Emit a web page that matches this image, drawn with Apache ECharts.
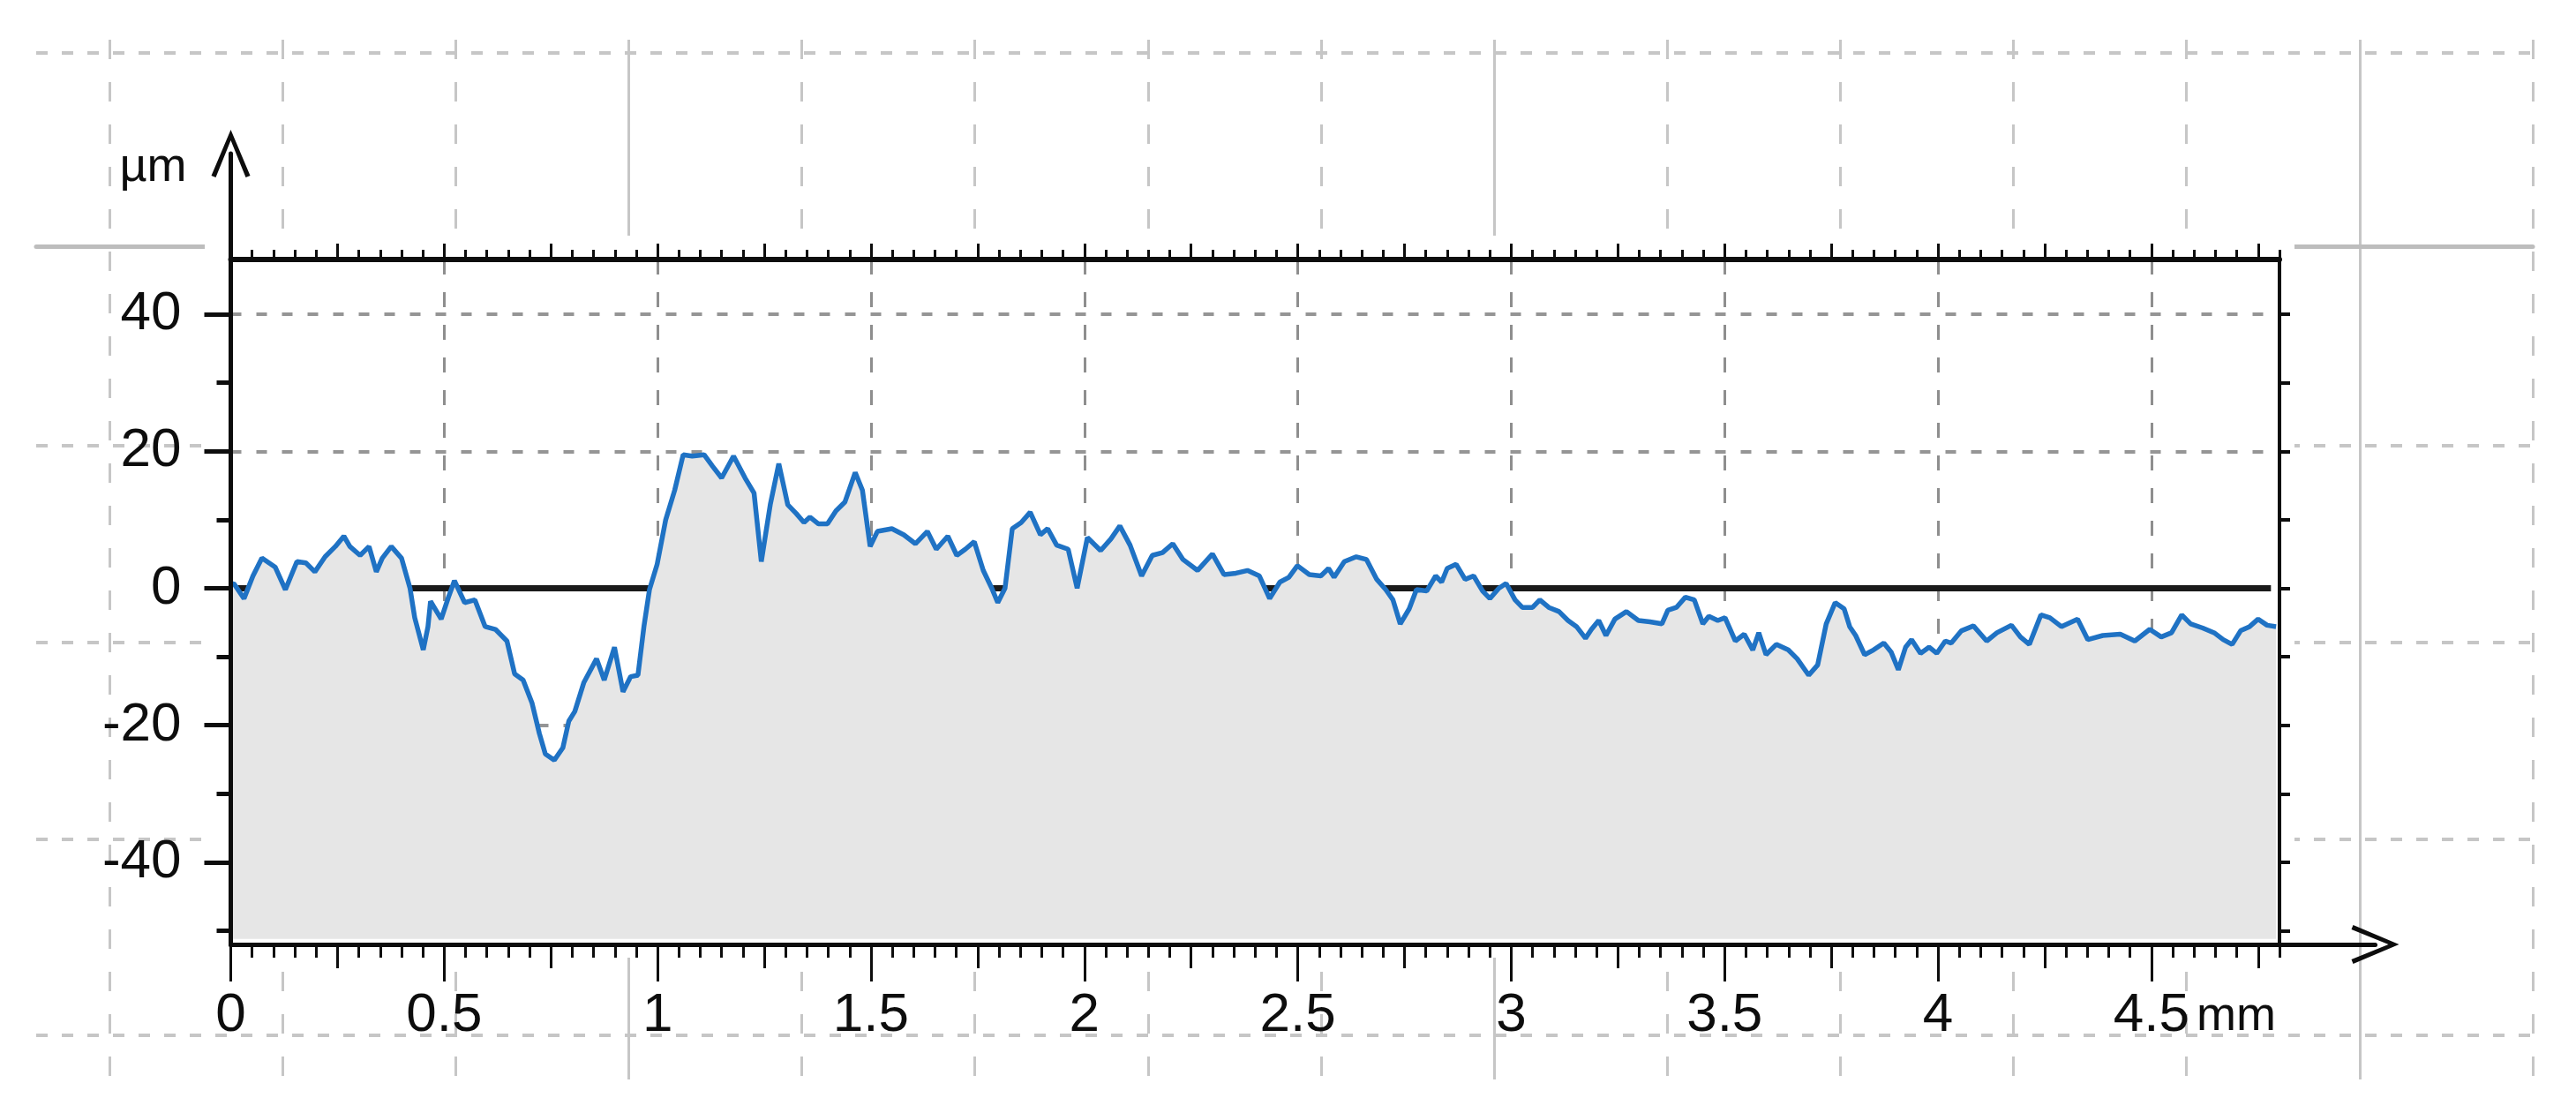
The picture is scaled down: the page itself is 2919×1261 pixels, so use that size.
<!DOCTYPE html>
<html>
<head>
<meta charset="utf-8">
<script src="https://cdn.jsdelivr.net/npm/echarts@6/dist/echarts.min.js"></script>
<style>
html,body{margin:0;padding:0;background:#fff;}
#chart{width:2919px;height:1261px;}
</style>
</head>
<body>
<div id="chart"></div>
<script>
// ---- data ----
const profileX = [0.000,0.007,0.031,0.052,0.073,0.104,0.128,0.155,0.176,0.197,0.221,0.245,0.265,0.279,0.303,0.324,0.341,0.355,0.376,0.400,0.420,0.431,0.451,0.462,0.468,0.493,0.510,0.524,0.548,0.572,0.596,0.620,0.647,0.665,0.685,0.706,0.723,0.737,0.758,0.778,0.792,0.806,0.827,0.857,0.875,0.899,0.919,0.937,0.954,0.968,0.981,0.999,1.019,1.040,1.060,1.081,1.109,1.129,1.150,1.178,1.205,1.226,1.243,1.264,1.284,1.305,1.325,1.343,1.357,1.377,1.398,1.418,1.439,1.463,1.480,1.498,1.515,1.549,1.577,1.604,1.632,1.653,1.680,1.701,1.721,1.742,1.763,1.783,1.797,1.814,1.831,1.852,1.873,1.897,1.914,1.935,1.962,1.983,2.007,2.038,2.062,2.083,2.107,2.134,2.159,2.183,2.207,2.231,2.265,2.300,2.327,2.355,2.382,2.410,2.434,2.458,2.479,2.499,2.527,2.554,2.572,2.585,2.609,2.637,2.661,2.685,2.706,2.723,2.740,2.761,2.778,2.802,2.823,2.837,2.850,2.871,2.892,2.912,2.933,2.950,2.971,2.988,3.009,3.026,3.050,3.067,3.088,3.112,3.133,3.153,3.174,3.188,3.205,3.222,3.243,3.270,3.298,3.325,3.353,3.367,3.387,3.408,3.429,3.449,3.463,3.484,3.501,3.525,3.546,3.566,3.580,3.597,3.621,3.649,3.670,3.697,3.718,3.738,3.759,3.780,3.793,3.807,3.828,3.849,3.873,3.890,3.907,3.924,3.938,3.959,3.979,3.997,4.017,4.031,4.055,4.083,4.114,4.138,4.172,4.193,4.214,4.241,4.262,4.289,4.327,4.351,4.386,4.427,4.461,4.496,4.523,4.547,4.571,4.592,4.620,4.647,4.668,4.689,4.709,4.730,4.750,4.771,4.792];
const profileY = [0.5,0.7,-1.5,1.8,4.4,3.1,-0.2,3.9,3.7,2.4,4.6,6.1,7.6,6.1,4.8,6.1,2.4,4.4,6.1,4.4,0.0,-4.3,-9.0,-5.6,-1.9,-4.5,-1.3,1.1,-2.1,-1.7,-5.6,-6.0,-7.7,-12.5,-13.4,-16.8,-21.2,-24.2,-25.1,-23.3,-19.4,-18.0,-13.8,-10.3,-13.4,-8.6,-15.1,-12.9,-12.7,-5.6,-0.2,3.5,10.0,14.3,19.5,19.3,19.5,17.8,16.1,19.3,16.1,13.9,3.9,12.2,18.2,12.2,10.9,9.6,10.4,9.4,9.4,11.3,12.6,16.9,14.3,6.1,8.3,8.7,7.8,6.5,8.3,5.7,7.6,4.8,5.7,6.8,2.6,0.0,-2.1,0.0,8.7,9.6,11.1,7.8,8.7,6.3,5.7,0.0,7.4,5.5,7.2,9.1,6.3,1.8,4.8,5.2,6.5,4.2,2.6,5.0,2.0,2.2,2.6,1.8,-1.5,0.9,1.6,3.3,2.0,1.8,2.9,1.6,3.9,4.6,4.2,1.3,-0.2,-1.7,-5.2,-3.0,-0.2,-0.4,1.8,0.9,2.9,3.5,1.3,1.8,-0.4,-1.5,0.0,0.7,-1.7,-2.8,-2.8,-1.7,-2.8,-3.4,-4.7,-5.6,-7.3,-6.0,-4.7,-6.9,-4.5,-3.4,-4.7,-4.9,-5.2,-3.2,-2.8,-1.3,-1.7,-5.2,-4.1,-4.7,-4.3,-7.7,-6.7,-9.0,-6.5,-9.7,-8.2,-9.0,-10.3,-12.7,-11.2,-5.2,-2.1,-3.0,-5.6,-6.9,-9.7,-9.0,-8.0,-9.3,-11.9,-8.6,-7.5,-9.5,-8.6,-9.5,-7.7,-8.0,-6.2,-5.5,-7.7,-6.5,-5.4,-7.1,-8.2,-3.9,-4.3,-5.6,-4.5,-7.5,-6.9,-6.7,-7.7,-6.0,-7.1,-6.5,-3.9,-5.2,-5.8,-6.5,-7.5,-8.2,-6.2,-5.6,-4.5,-5.4,-5.6];
const zeroLineX = [0, 4.78];
const zeroLineY = [0, 0];
const xMajorTicks = [0, 0.5, 1, 1.5, 2, 2.5, 3, 3.5, 4, 4.5];
const xMidTicks = [0.25, 0.75, 1.25, 1.75, 2.25, 2.75, 3.25, 3.75, 4.25, 4.75];
const xQuarterTicks = [0, 0.25, 0.5, 0.75, 1, 1.25, 1.5, 1.75, 2, 2.25, 2.5, 2.75, 3, 3.25, 3.5, 3.75, 4, 4.25, 4.5, 4.75];
const yMajorTicks = [-40, -20, 0, 20, 40];
const yMinorTicks = [-50, -30, -10, 10, 30];
const yBorderTicks = [-50, -40, -30, -20, -10, 0, 10, 20, 30, 40];
const xUnit = 'mm';
const yUnit = 'µm';
const X_MIN = 0, X_MAX = 4.8, Y_MIN = -52, Y_MAX = 48, FILL_BASE = -51.2;

// ---- styles ----
const FONT = "'Liberation Sans Narrow','Arial Narrow','Liberation Sans',Arial,sans-serif";
const INK = '#0d0d0d';
const PAGE_GRID = '#c6c6c6';
const CHEVRON = 'path://M0,52 L22,0 L44,52 L39,54 L22,12 L5,54 Z';

function hid(extra) {
  return Object.assign({
    type: 'value', axisLine: {show: false, onZero: false}, axisTick: {show: false},
    axisLabel: {show: false}, splitLine: {show: false}
  }, extra);
}

const chart = echarts.init(document.getElementById('chart'), null, {renderer: 'canvas'});

const option = {
  animation: false,
  backgroundColor: '#fff',
  grid: [
    {left: 124, top: 45, width: 2746, height: 1178, show: false},        // 0 page grid verticals
    {left: 41, top: 60, width: 2829, height: 1113, show: false},         // 1 page grid horizontals
    {left: 712.4, top: 45, width: 1961.4, height: 1178, show: false},    // 2 page solid verticals
    {left: 41, top: 279, width: 2829, height: 20, show: false},          // 3 page solid horizontal
    {left: 232, top: 267, width: 2368, height: 818, show: true, backgroundColor: '#fff', borderWidth: 0, z: 1}, // 4 white plot panel
    {left: 261.5, top: 294, width: 2321.5, height: 776, show: false},    // 5 plot
    {left: 261.5, top: 294, width: 2430, height: 776, show: false},      // 6 x arrow
    {left: 261.5, top: 174, width: 100, height: 896, show: false}        // 7 y arrow
  ],
  xAxis: [
    hid({gridIndex: 0, min: 0, max: 14, interval: 1, z: 0,
      splitLine: {show: true, lineStyle: {color: PAGE_GRID, width: 3, type: [22, 26]}}}),
    hid({gridIndex: 1, min: 0, max: 1}),
    hid({gridIndex: 2, min: 0, max: 10, interval: 5, z: 0,
      splitLine: {show: true, lineStyle: {color: PAGE_GRID, width: 3, type: 'solid'}}}),
    hid({gridIndex: 3, min: 0, max: 1, position: 'top', z: 0,
      axisLine: {show: true, onZero: false, lineStyle: {color: '#bdbdbd', width: 5}}}),
    hid({gridIndex: 4, min: 0, max: 1}),
    // 5: inner vertical dashed grid
    hid({gridIndex: 5, min: X_MIN, max: X_MAX, interval: 0.5, z: 2,
      splitLine: {show: true, lineStyle: {color: '#8e8e8e', width: 3, type: [17, 20]}}}),
    // 6: bottom axis line + minor ticks
    hid({gridIndex: 5, min: X_MIN, max: X_MAX, interval: 0.05, position: 'bottom', z: 5,
      axisLine: {show: true, onZero: false, lineStyle: {color: INK, width: 5}},
      axisTick: {show: true, length: 15, lineStyle: {color: INK, width: 3}}}),
    // 7: bottom mid ticks
    hid({gridIndex: 5, min: X_MIN, max: X_MAX, position: 'bottom', z: 5,
      axisTick: {show: true, customValues: xMidTicks, length: 27, lineStyle: {color: INK, width: 3}}}),
    // 8: bottom major ticks + labels
    hid({gridIndex: 5, min: X_MIN, max: X_MAX, position: 'bottom', z: 5,
      axisTick: {show: true, customValues: xMajorTicks, length: 42, lineStyle: {color: INK, width: 3}},
      axisLabel: {show: true, customValues: xMajorTicks, margin: 50, fontFamily: FONT, fontSize: 62, color: INK},
      name: xUnit, nameLocation: 'end', nameGap: -4,
      nameTextStyle: {fontFamily: FONT, fontSize: 54, color: INK, align: 'right', verticalAlign: 'top', padding: [55, 0, 0, 0]}}),
    // 9: top axis line + minor ticks
    hid({gridIndex: 5, min: X_MIN, max: X_MAX, interval: 0.05, position: 'top', z: 5,
      axisLine: {show: true, onZero: false, lineStyle: {color: INK, width: 6}},
      axisTick: {show: true, length: 11, lineStyle: {color: INK, width: 3}}}),
    // 10: top quarter ticks
    hid({gridIndex: 5, min: X_MIN, max: X_MAX, position: 'top', z: 5,
      axisTick: {show: true, customValues: xQuarterTicks, length: 18, lineStyle: {color: INK, width: 3}}}),
    // 11: x arrow
    hid({gridIndex: 6, min: 0, max: 1, position: 'bottom', z: 5,
      axisLine: {show: true, onZero: false, symbol: ['none', CHEVRON], symbolSize: [44, 54], lineStyle: {color: INK, width: 5}}}),
    hid({gridIndex: 7, min: 0, max: 1})
  ],
  yAxis: [
    hid({gridIndex: 0, min: 0, max: 1}),
    hid({gridIndex: 1, min: 0, max: 5, interval: 1, z: 0,
      splitLine: {show: true, lineStyle: {color: [PAGE_GRID, PAGE_GRID, PAGE_GRID, PAGE_GRID, 'rgba(0,0,0,0)', PAGE_GRID], width: 4, type: [13, 16]}}}),
    hid({gridIndex: 2, min: 0, max: 1}),
    hid({gridIndex: 3, min: 0, max: 1}),
    hid({gridIndex: 4, min: 0, max: 1}),
    // 5: inner horizontal dotted grid
    hid({gridIndex: 5, min: Y_MIN, max: Y_MAX, position: 'left', z: 2,
      axisTick: {show: false, customValues: yMajorTicks},
      splitLine: {show: true, lineStyle: {color: '#959595', width: 4, type: [12, 17]}}}),
    // 6: left axis with labels
    hid({gridIndex: 5, min: Y_MIN, max: Y_MAX, position: 'left', z: 5,
      axisLine: {show: true, onZero: false, lineStyle: {color: INK, width: 5}},
      axisTick: {show: true, customValues: yMajorTicks, length: 30, lineStyle: {color: INK, width: 5}},
      axisLabel: {show: true, customValues: yMajorTicks, margin: 56, fontFamily: FONT, fontSize: 62, color: INK}}),
    // 7: left minor ticks
    hid({gridIndex: 5, min: Y_MIN, max: Y_MAX, position: 'left', z: 5,
      axisTick: {show: true, customValues: yMinorTicks, length: 16, lineStyle: {color: INK, width: 5}}}),
    // 8: right border
    hid({gridIndex: 5, min: Y_MIN, max: Y_MAX, position: 'right', z: 5,
      axisLine: {show: true, onZero: false, lineStyle: {color: INK, width: 4}},
      axisTick: {show: true, customValues: yBorderTicks, length: 12, lineStyle: {color: INK, width: 4}}}),
    hid({gridIndex: 6, min: 0, max: 1}),
    // 10: y arrow + unit
    hid({gridIndex: 7, min: 0, max: 1, position: 'left', z: 5,
      axisLine: {show: true, onZero: false, symbol: ['none', CHEVRON], symbolSize: [44, 54], lineStyle: {color: INK, width: 5}},
      name: yUnit, nameLocation: 'end', nameGap: -16,
      nameTextStyle: {fontFamily: FONT, fontSize: 54, color: INK, align: 'right', verticalAlign: 'middle', padding: [0, 50, 0, 0]}})
  ],
  series: [
    {
      type: 'line', name: 'zero', xAxisIndex: 6, yAxisIndex: 6, z: 3, silent: true,
      symbol: 'none', lineStyle: {color: '#1a1a1a', width: 7},
      data: zeroLineX.map((x, i) => [x, zeroLineY[i]])
    },
    {
      type: 'line', name: 'profile', xAxisIndex: 6, yAxisIndex: 6, z: 4, silent: true,
      symbol: 'none', smooth: false,
      lineStyle: {color: '#1f72c4', width: 5.5},
      areaStyle: {color: '#e6e6e6', opacity: 1, origin: FILL_BASE},
      data: profileX.map((x, i) => [x, profileY[i]])
    }
  ]
};
chart.setOption(option);
</script>
</body>
</html>
